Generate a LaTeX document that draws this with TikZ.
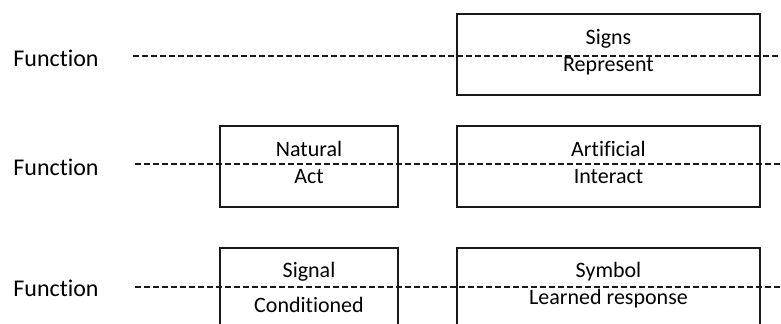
\documentclass[tikz,border=0pt]{standalone}
\usepackage{fontspec}
\setmainfont{Carlito}[RawFeature=-liga]
\usetikzlibrary{positioning}

\begin{document}
\begin{tikzpicture}[x=0.5pt, y=-0.5pt,
    level/.style={font=\fontsize{12}{14}\selectfont, anchor=base west, inner sep=0pt},
    sign/.style={rectangle, draw=black!90, line width=0.75pt, minimum height=40.5pt, inner sep=0pt},
    wide/.style={sign, minimum width=151.5pt},
    narrow/.style={sign, minimum width=89pt},
    word/.style={font=\fontsize{11}{13}\selectfont, anchor=base, inner sep=0pt},
    axis/.style={draw=black!90, dash pattern=on 3pt off 1.5pt, line width=0.7pt}
]
    \clip (0,0) rectangle (781,324);

    % Levels
    \node[level] (f1) at (13,66.7) {Function};
    \node[level] (f2) at (13,175.7) {Function};
    \node[level] (f3) at (13,297) {Function};

    % Axes
    \coordinate (a1) at (133,56);  \coordinate (b1) at (781,56);
    \coordinate (a2) at (135,164); \coordinate (b2) at (781,164);
    \coordinate (a3) at (135,287); \coordinate (b3) at (781,287);
    \draw[axis] (a1) -- (b1);
    \draw[axis] (a2) -- (b2);
    \draw[axis] (a3) -- (b3);

    % Boxes
    \node[wide] (signs) at (608.5,54.5) {};
    \node[narrow] (natural) at (309,166.5) {};
    \node[wide] (artificial) at (608.5,166.5) {};
    \node[narrow] (signal) at (309,288.5) {};
    \node[wide] (symbol) at (608.5,288.5) {};

    % Words
    \node[word] at (608.5,45) {Signs};
    \node[word] at (608.5,71.7) {Represent};
    \node[word] at (309,157) {Natural};
    \node[word] at (309,184) {Act};
    \node[word] at (608.5,157) {Artificial};
    \node[word] at (608.5,184) {Interact};
    \node[word] at (309,278) {Signal};
    \node[word] at (309,313) {Conditioned};
    \node[word] at (608.5,278) {Symbol};
    \node[word] at (608.5,305) {Learned response};
\end{tikzpicture}
\end{document}
